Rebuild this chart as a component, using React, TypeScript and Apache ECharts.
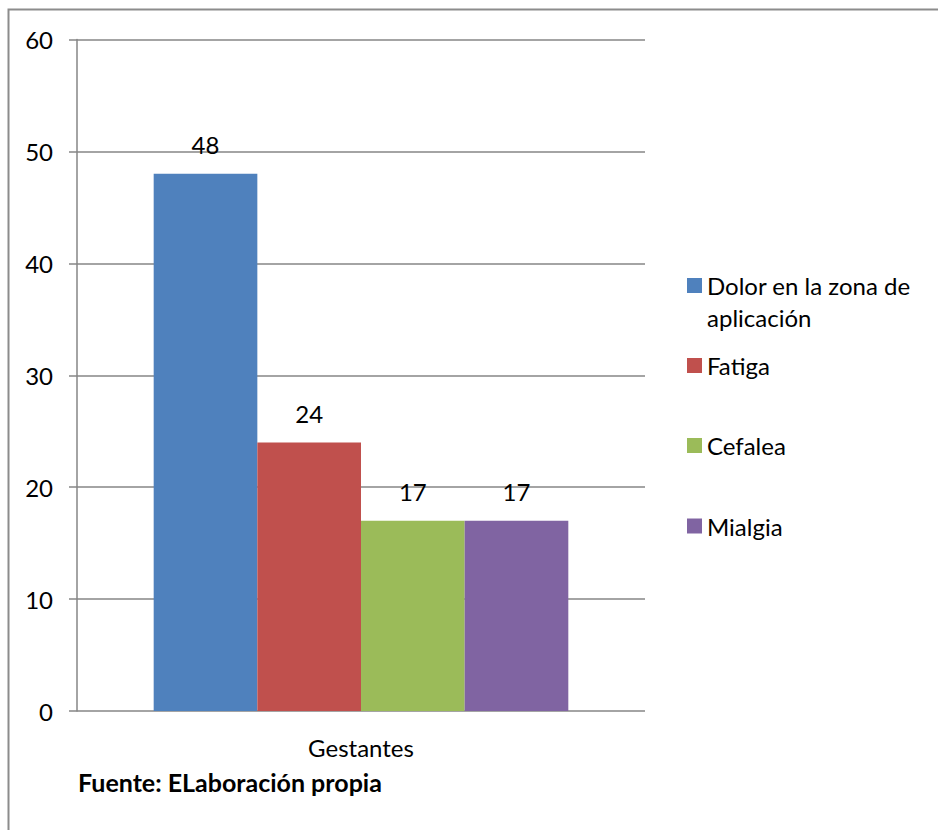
import React, { useEffect, useRef } from "react";
import * as echarts from "echarts";

const categories = ["Gestantes"];
const seriesNames = ["Dolor en la zona de aplicación", "Fatiga", "Cefalea", "Mialgia"];
const seriesValues = [[48], [24], [17], [17]];
const seriesColors = ["#4F81BD", "#C0504D", "#9BBB59", "#8064A2"];
const legendTops = [237.5, 353.5, 433.5, 514];
const yTicks = { min: 0, max: 60, interval: 10 };
const sourceText = "Fuente: ELaboración propia";

const FONT = "Lato, 'Open Sans', sans-serif";
const FS = 24;

export default function App() {
  const ref = useRef<HTMLDivElement>(null);
  useEffect(() => {
    if (!ref.current) return;
    const chart = echarts.init(ref.current, undefined, { renderer: "svg" });
    const legends = seriesNames.map((name, i) => ({
      data: [name],
      orient: "vertical",
      left: 687,
      top: legendTops[i],
      padding: 0,
      itemWidth: 15,
      itemHeight: 15,
      icon: "rect",
      selectedMode: false,
      formatter: i === 0 ? () => "\u00a0\nDolor en la zona de\naplicación" : undefined,
      textStyle: {
        fontFamily: FONT,
        fontSize: FS,
        color: "#000",
        lineHeight: i === 0 ? 32 : 24,
      },
    }));
    chart.setOption({
      animation: false,
      backgroundColor: "#fff",
      textStyle: { fontFamily: FONT },
      grid: { left: 77, top: 39.5, right: 293, bottom: 119, containLabel: false },
      legend: legends,
      xAxis: {
        type: "category",
        data: categories,
        axisLine: { show: false },
        axisTick: { show: false },
        axisLabel: { color: "#000", fontSize: FS, fontFamily: FONT, margin: 24 },
      },
      yAxis: {
        type: "value",
        min: yTicks.min,
        max: yTicks.max,
        interval: yTicks.interval,
        axisLine: { show: true, lineStyle: { color: "#868686", width: 1.5 } },
        axisTick: { show: true, inside: false, length: 8, lineStyle: { color: "#868686", width: 1.5 } },
        splitLine: { show: true, lineStyle: { color: "#868686", width: 1.5 } },
        axisLabel: { color: "#000", fontSize: FS, fontFamily: FONT, margin: 24 },
      },
      series: seriesNames.map((name, i) => ({
        name,
        type: "bar",
        data: seriesValues[i],
        barGap: "0%",
        barCategoryGap: "27%",
        itemStyle: { color: seriesColors[i] },
        label: {
          show: true,
          position: "top",
          distance: 17,
          color: "#000",
          fontSize: FS,
          fontFamily: FONT,
        },
      })),
      graphic: [
        {
          type: "rect",
          shape: { x: 8.5, y: 9.5, width: 2000, height: 2000 },
          style: { fill: "none", stroke: "#8c8c8c", lineWidth: 2 },
          silent: true,
        },
        {
          type: "text",
          left: 78,
          top: 769,
          style: {
            text: sourceText,
            fontFamily: FONT,
            fontWeight: "bold",
            fontSize: 25,
            fill: "#000",
          },
        },
      ],
    });
    return () => chart.dispose();
  }, []);
  return (
    <div
      ref={ref}
      style={{ position: "fixed", left: 0, top: 0, width: 938, height: 830 }}
    />
  );
}
